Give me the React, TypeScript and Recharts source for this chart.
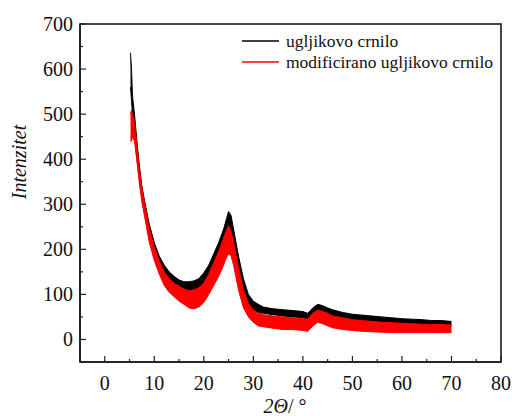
import React from 'react';
import { ComposedChart, Area, XAxis, YAxis } from 'recharts';

const angles = [
  5.2, 5.4, 5.6, 6, 6.5, 7, 7.5, 8, 9, 10, 11, 12, 13, 14, 15, 16, 17, 18, 19, 20,
  21, 22, 23, 24, 24.5, 25, 25.5, 26, 27, 28, 29, 30, 31, 32, 34, 36, 38, 40, 41, 42,
  43, 44, 45, 46, 48, 50, 52, 54, 56, 58, 60, 62, 64, 66, 68, 70,
];

// ugljikovo crnilo: lower / upper edge of the noisy trace
const carbonLow = [
  560, 530, 500, 460, 400, 355, 315, 285, 225, 190, 160, 140, 125, 115, 108, 105, 105, 105, 112, 120,
  140, 160, 185, 210, 225, 240, 230, 200, 145, 100, 75, 65, 60, 58, 55, 52, 50, 48, 45, 55,
  60, 58, 55, 50, 46, 42, 40, 38, 36, 35, 34, 33, 32, 31, 31, 30,
];
const carbonHigh = [
  636, 600, 540, 500, 440, 385, 340, 310, 255, 215, 185, 165, 150, 140, 132, 128, 128, 130, 135, 148,
  165, 190, 215, 245, 265, 284, 275, 245, 185, 135, 100, 85, 78, 72, 68, 66, 64, 62, 58, 70,
  78, 75, 70, 66, 60, 56, 54, 52, 50, 48, 46, 45, 44, 42, 42, 40,
];

// modificirano ugljikovo crnilo
const modifiedLow = [
  440, 440, 450, 440, 395, 345, 305, 275, 215, 175, 145, 120, 105, 95, 85, 78, 70, 68, 72, 82,
  100, 120, 140, 165, 180, 190, 185, 165, 110, 70, 50, 38, 30, 28, 25, 22, 22, 20, 18, 30,
  38, 35, 30, 26, 22, 20, 18, 17, 16, 15, 15, 15, 15, 15, 15, 15,
];
const modifiedHigh = [
  500, 510, 500, 480, 430, 375, 335, 305, 245, 205, 175, 150, 135, 125, 118, 112, 108, 110, 115, 125,
  145, 170, 195, 225, 240, 252, 240, 215, 160, 110, 80, 65, 58, 55, 52, 50, 48, 46, 45, 58,
  65, 62, 58, 52, 48, 44, 42, 40, 38, 37, 36, 35, 34, 33, 33, 32,
];

const xTicks = [0, 5, 10, 15, 20, 25, 30, 35, 40, 45, 50, 55, 60, 65, 70, 75, 80];
const yTicks = [0, 50, 100, 150, 200, 250, 300, 350, 400, 450, 500, 550, 600, 650, 700];

const data = angles.map((a, i) => ({
  angle: a,
  carbon: [carbonLow[i], carbonHigh[i]],
  modified: [modifiedLow[i], modifiedHigh[i]],
}));

const FONT = '"Liberation Serif", "Times New Roman", "DejaVu Serif", serif';
const FRAME = '#222';

const W = 504;
const H = 408;
const MARGIN = { top: 16, right: 11, left: 0, bottom: 0 };
const Y_AXIS_W = 72;
const X_AXIS_H = 54;
const PLOT_W = W - MARGIN.left - MARGIN.right - Y_AXIS_W;
const PLOT_H = H - MARGIN.top - MARGIN.bottom - X_AXIS_H;

const XTick = (props: any) => {
  const { x, y, payload } = props;
  const major = payload.value % 10 === 0;
  return (
    <g>
      <line x1={x} x2={x} y1={y} y2={y - (major ? 6 : 3)} stroke={FRAME} strokeWidth={1.2} />
      {major && (
        <text x={x} y={y + 21} textAnchor="middle" dominantBaseline="central" style={{ fontFamily: FONT }} fontSize={20} fill="#111">
          {payload.value}
        </text>
      )}
    </g>
  );
};

const YTick = (props: any) => {
  const { x, y, payload } = props;
  const major = payload.value % 100 === 0;
  return (
    <g>
      <line x1={x} x2={x + (major ? 6 : 3)} y1={y} y2={y} stroke={FRAME} strokeWidth={1.2} />
      {major && (
        <text x={x - 7} y={y} textAnchor="end" dominantBaseline="central" style={{ fontFamily: FONT }} fontSize={20} fill="#111">
          {payload.value}
        </text>
      )}
    </g>
  );
};

const legendItems = [
  { name: 'ugljikovo crnilo', color: '#000000' },
  { name: 'modificirano ugljikovo crnilo', color: '#ff0000' },
];

export default function App() {
  return (
    <div
      style={{
        position: 'fixed',
        left: 8,
        top: 8,
        width: W,
        height: H,
        overflow: 'hidden',
        fontFamily: FONT,
        background: '#fff',
      }}
    >
      <ComposedChart width={W} height={H} data={data} margin={MARGIN}>
        <XAxis
          dataKey="angle"
          type="number"
          domain={[-5, 80]}
          ticks={xTicks}
          interval={0}
          height={X_AXIS_H}
          tickSize={0}
          tickMargin={0}
          tickLine={false}
          tick={<XTick />}
          axisLine={{ stroke: FRAME, strokeWidth: 1.5 }}
        />
        <YAxis
          type="number"
          domain={[-50, 700]}
          ticks={yTicks}
          interval={0}
          width={Y_AXIS_W}
          tickSize={0}
          tickMargin={0}
          tickLine={false}
          tick={<YTick />}
          axisLine={{ stroke: FRAME, strokeWidth: 1.5 }}
        />
        <Area
          type="linear"
          dataKey="carbon"
          stroke="#000"
          strokeWidth={1}
          fill="#000"
          fillOpacity={1}
          isAnimationActive={false}
        />
        <Area
          type="linear"
          dataKey="modified"
          stroke="#ff0000"
          strokeWidth={1}
          fill="#ff0000"
          fillOpacity={1}
          isAnimationActive={false}
        />
      </ComposedChart>

      {/* plot frame drawn over the chart */}
      <svg
        width={W}
        height={H}
        style={{ position: 'absolute', left: 0, top: 0, pointerEvents: 'none', zIndex: 5 }}
      >
        <rect
          x={MARGIN.left + Y_AXIS_W}
          y={MARGIN.top}
          width={PLOT_W}
          height={PLOT_H}
          fill="none"
          stroke="#1a1a1a"
          strokeWidth={1.6}
        />
      </svg>

      <div style={{ position: 'absolute', left: 234, top: 23, fontSize: 17.5, color: '#111', zIndex: 6 }}>
        {legendItems.map((item) => (
          <div key={item.name} style={{ display: 'flex', alignItems: 'center', height: 20.7, whiteSpace: 'nowrap' }}>
            <svg width={37} height={4} style={{ marginRight: 7 }}>
              <line x1={0} x2={37} y1={2} y2={2} stroke={item.color} strokeWidth={1.5} />
            </svg>
            <span>{item.name}</span>
          </div>
        ))}
      </div>

      <div
        style={{
          position: 'absolute',
          left: 11,
          top: 154,
          transform: 'translate(-50%, -50%) rotate(-90deg)',
          fontSize: 20,
          lineHeight: '20px',
          fontStyle: 'italic',
          whiteSpace: 'nowrap',
          color: '#111',
        }}
      >
        Intenzitet
      </div>

      <div
        style={{
          position: 'absolute',
          left: 227,
          top: 389,
          width: 100,
          textAlign: 'center',
          fontSize: 20,
          lineHeight: '19px',
          whiteSpace: 'nowrap',
          color: '#111',
        }}
      >
        <i>2Θ</i>/ °
      </div>
    </div>
  );
}
